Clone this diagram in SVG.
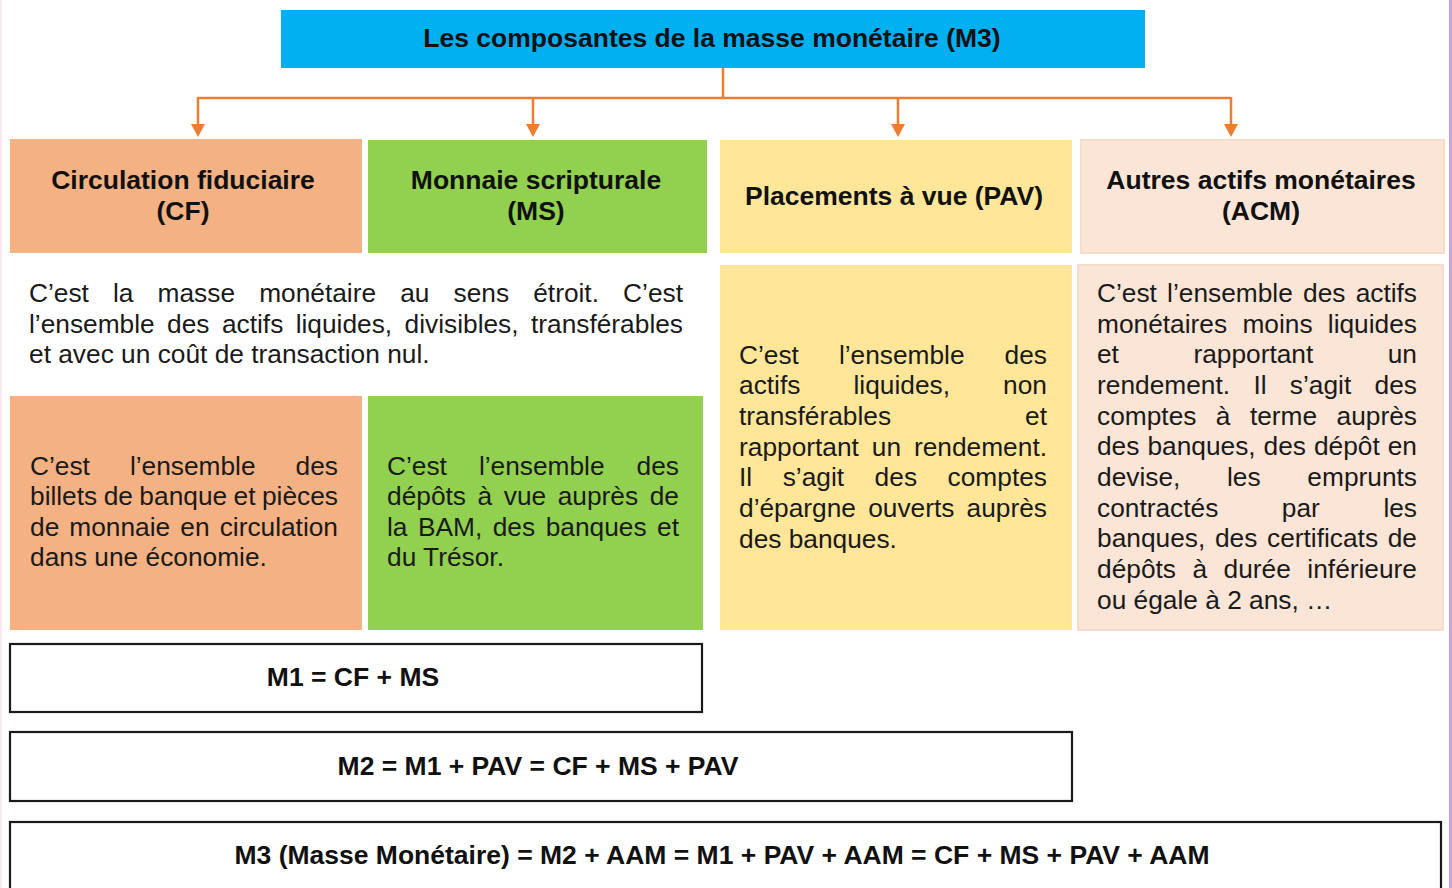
<svg xmlns="http://www.w3.org/2000/svg" width="1452" height="888" viewBox="0 0 1452 888">
<style>
.b{font-family:"Liberation Sans",Arial,sans-serif;font-size:26.5px;font-weight:bold;fill:#111;text-anchor:middle}
.t{font-family:"Liberation Sans",Arial,sans-serif;font-size:26.3px;fill:#1a1a1a}
.conn{fill:none;stroke:#ed7d31;stroke-width:2.5}
.f{fill:#fff;stroke:#1a1a1a;stroke-width:2.2}
</style>
<defs>
<marker id="ah" markerUnits="userSpaceOnUse" markerWidth="14" markerHeight="16" refX="0" refY="8" orient="auto" viewBox="0 0 14 16">
<path d="M0,1 L13,8 L0,15 Z" fill="#ed7d31"/>
</marker>
</defs>
<rect width="1452" height="888" fill="#fff"/>
<line x1="1" y1="0" x2="1" y2="888" stroke="#f7e8f1" stroke-width="2"/>
<line x1="1450.5" y1="0" x2="1450.5" y2="888" stroke="#c8a6dc" stroke-width="3"/>

<g id="title">
<rect x="281" y="10" width="864" height="58" fill="#00b0f0"/>
<text class="b" x="712" y="47">Les composantes de la masse monétaire (M3)</text>
</g>

<g id="connectors">
<path class="conn" d="M723,68 V98 M198,98 H1231"/>
<line class="conn" x1="198" y1="97" x2="198" y2="124" marker-end="url(#ah)"/>
<line class="conn" x1="533" y1="97" x2="533" y2="124" marker-end="url(#ah)"/>
<line class="conn" x1="898" y1="97" x2="898" y2="124" marker-end="url(#ah)"/>
<line class="conn" x1="1231" y1="97" x2="1231" y2="124" marker-end="url(#ah)"/>
</g>

<g id="cf-head">
<rect x="10" y="139" width="352" height="114" fill="#f4b183"/>
<text class="b" x="183" y="189">Circulation fiduciaire</text>
<text class="b" x="183" y="220">(CF)</text>
</g>
<g id="ms-head">
<rect x="368" y="140" width="339" height="113" fill="#92d050"/>
<text class="b" x="536" y="189">Monnaie scripturale</text>
<text class="b" x="536" y="220">(MS)</text>
</g>
<g id="pav-head">
<rect x="720" y="140" width="352" height="113" fill="#ffe699"/>
<text class="b" x="894" y="205">Placements à vue (PAV)</text>
</g>
<g id="acm-head">
<rect x="1081" y="140" width="363" height="113" fill="#fbe5d6" stroke="#f6dccb" stroke-width="2"/>
<text class="b" x="1261" y="189">Autres actifs monétaires</text>
<text class="b" x="1261" y="220">(ACM)</text>
</g>

<g id="m1-def">
<text class="t" x="29" y="302" textLength="654" lengthAdjust="spacing" style="word-spacing:16.8px">C’est la masse monétaire au sens étroit. C’est</text>
<text class="t" x="29" y="333" textLength="654" lengthAdjust="spacing" style="word-spacing:5.1px">l’ensemble des actifs liquides, divisibles, transférables</text>
<text class="t" x="29" y="363">et avec un coût de transaction nul.</text>
</g>

<g id="cf-desc">
<rect x="10" y="396" width="352" height="234" fill="#f4b183"/>
<text class="t" x="30" y="475" textLength="308" lengthAdjust="spacing" style="word-spacing:32.7px">C’est l’ensemble des</text>
<text class="t" x="30" y="505" textLength="308" lengthAdjust="spacing" style="word-spacing:-0.85px">billets de banque et pièces</text>
<text class="t" x="30" y="536" textLength="308" lengthAdjust="spacing" style="word-spacing:2.8px">de monnaie en circulation</text>
<text class="t" x="30" y="566">dans une économie.</text>
</g>

<g id="ms-desc">
<rect x="368" y="396" width="335" height="234" fill="#92d050"/>
<text class="t" x="387" y="475" textLength="292" lengthAdjust="spacing" style="word-spacing:24.7px">C’est l’ensemble des</text>
<text class="t" x="387" y="505" textLength="292" lengthAdjust="spacing" style="word-spacing:4.3px">dépôts à vue auprès de</text>
<text class="t" x="387" y="536" textLength="292" lengthAdjust="spacing" style="word-spacing:3.2px">la BAM, des banques et</text>
<text class="t" x="387" y="566">du Trésor.</text>
</g>

<g id="pav-desc">
<rect x="720" y="265" width="352" height="365" fill="#ffe699"/>
<text class="t" x="739" y="364" textLength="308" lengthAdjust="spacing" style="word-spacing:32.7px">C’est l’ensemble des</text>
<text class="t" x="739" y="394" textLength="308" lengthAdjust="spacing" style="word-spacing:45.8px">actifs liquides, non</text>
<text class="t" x="739" y="425" textLength="308" lengthAdjust="spacing" style="word-spacing:126.7px">transférables et</text>
<text class="t" x="739" y="456" textLength="308" lengthAdjust="spacing" style="word-spacing:5.6px">rapportant un rendement.</text>
<text class="t" x="739" y="486" textLength="308" lengthAdjust="spacing" style="word-spacing:23.2px">Il s’agit des comptes</text>
<text class="t" x="739" y="517" textLength="308" lengthAdjust="spacing" style="word-spacing:4.9px">d’épargne ouverts auprès</text>
<text class="t" x="739" y="548">des banques.</text>
</g>

<g id="acm-desc">
<rect x="1078" y="265" width="365" height="365" fill="#fbe5d6" stroke="#f6dccb" stroke-width="2"/>
<text class="t" x="1097" y="302" textLength="320" lengthAdjust="spacing" style="word-spacing:2.9px">C’est l’ensemble des actifs</text>
<text class="t" x="1097" y="333" textLength="320" lengthAdjust="spacing" style="word-spacing:8px">monétaires moins liquides</text>
<text class="t" x="1097" y="363" textLength="320" lengthAdjust="spacing" style="word-spacing:67.2px">et rapportant un</text>
<text class="t" x="1097" y="394" textLength="320" lengthAdjust="spacing" style="word-spacing:16px">rendement. Il s’agit des</text>
<text class="t" x="1097" y="425" textLength="320" lengthAdjust="spacing" style="word-spacing:12.1px">comptes à terme auprès</text>
<text class="t" x="1097" y="455" textLength="320" lengthAdjust="spacing" style="word-spacing:0.7px">des banques, des dépôt en</text>
<text class="t" x="1097" y="486" textLength="320" lengthAdjust="spacing" style="word-spacing:39.4px">devise, les emprunts</text>
<text class="t" x="1097" y="517" textLength="320" lengthAdjust="spacing" style="word-spacing:56.2px">contractés par les</text>
<text class="t" x="1097" y="547" textLength="320" lengthAdjust="spacing" style="word-spacing:2.4px">banques, des certificats de</text>
<text class="t" x="1097" y="578" textLength="320" lengthAdjust="spacing" style="word-spacing:9.2px">dépôts à durée inférieure</text>
<text class="t" x="1097" y="609">ou égale à 2 ans, …</text>
</g>

<g id="m1">
<rect class="f" x="10" y="644" width="692" height="68"/>
<text class="b" x="353" y="686">M1 = CF + MS</text>
</g>
<g id="m2">
<rect class="f" x="10" y="732" width="1062" height="69"/>
<text class="b" x="538" y="775">M2 = M1 + PAV = CF + MS + PAV</text>
</g>
<g id="m3">
<rect class="f" x="10" y="822" width="1431" height="80"/>
<text class="b" x="722" y="864">M3 (Masse Monétaire) = M2 + AAM = M1 + PAV + AAM = CF + MS + PAV + AAM</text>
</g>
</svg>
